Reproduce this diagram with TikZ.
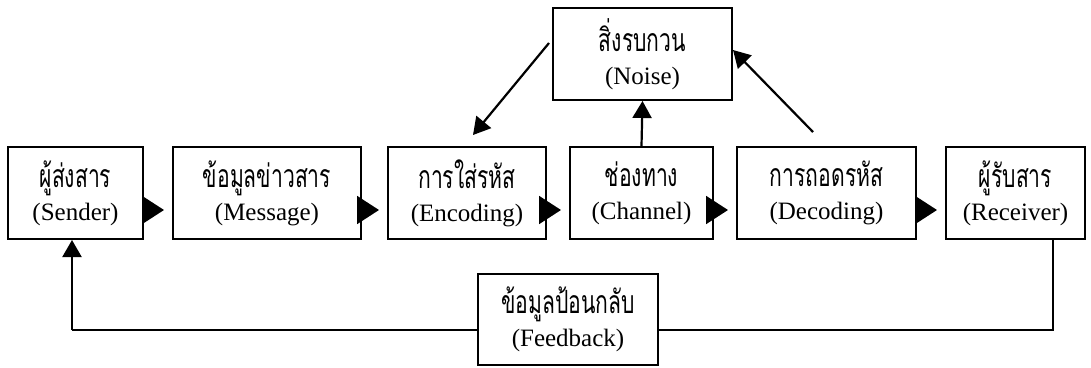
\documentclass[tikz,border=0pt]{standalone}
\usepackage{fontspec}
\setmainfont{Liberation Serif}
\newfontfamily\thai[Script=Thai,FakeStretch=0.66]{Loma}
\usetikzlibrary{arrows.meta,calc}
\begin{document}
\begin{tikzpicture}[x=1pt,y=-1pt,
  box/.style={draw,line width=2pt,align=center,inner sep=0pt,font=\fontsize{25}{30}\selectfont},
  rowarrow/.style={line width=2pt,-{Triangle[length=22pt,width=28pt]},shorten >=8pt},
  noisearrow/.style={line width=2.2pt,-{Triangle[length=17pt,width=19pt]}},
  fbline/.style={line width=2pt}]
\useasboundingbox (0,0) rectangle (1091,367);
\newcommand{\bx}[2]{{\thai\fontsize{32}{32}\selectfont #1}\\[3pt]#2}
\node[box,minimum width=135pt,minimum height=92pt] (snd) at (75.5,193) {\bx{ผู้ส่งสาร}{(Sender)}};
\node[box,minimum width=188pt,minimum height=92pt] (msg) at (267,193) {\bx{ข้อมูลข่าวสาร}{(Message)}};
\node[box,minimum width=158pt,minimum height=92pt] (enc) at (467,193) {\bx{การใส่รหัส}{(Encoding)}};
\node[box,minimum width=143pt,minimum height=92pt] (chn) at (641.5,193) {\bx{ช่องทาง}{(Channel)}};
\node[box,minimum width=179pt,minimum height=92pt] (dec) at (826.5,193) {\bx{การถอดรหัส}{(Decoding)}};
\node[box,minimum width=139pt,minimum height=92pt] (rcv) at (1015.5,193) {\bx{ผู้รับสาร}{(Receiver)}};
\node[box,minimum width=179pt,minimum height=92pt] (noi) at (642.5,54) {\bx{สิ่งรบกวน}{(Noise)}};
\coordinate (fbr) at (1053,330);
\coordinate (fbl) at (72,330);
\draw[fbline] (rcv.south -| fbr) -- (fbr) -- (fbl);
\draw[noisearrow] (fbl) -- (snd.south -| fbl);
\node[box,fill=white,minimum width=180pt,minimum height=91pt] (fb) at (568,319.5) {\bx{ข้อมูลป้อนกลับ}{(Feedback)}};
\foreach \a/\b in {snd/msg,msg/enc,enc/chn,chn/dec,dec/rcv}
  \draw[rowarrow] ($(\a.east)+(0,17)$) -- ($(\b.west)+(0,17)$);
\coordinate (n1) at (549,43);
\coordinate (n1e) at (473,135);
\coordinate (n3) at (813,132);
\draw[noisearrow] (n1) -- (n1e);
\draw[noisearrow] (chn.north) -- (noi.south);
\draw[noisearrow] (n3) -- (noi.east |- 0,50);
\end{tikzpicture}
\end{document}
